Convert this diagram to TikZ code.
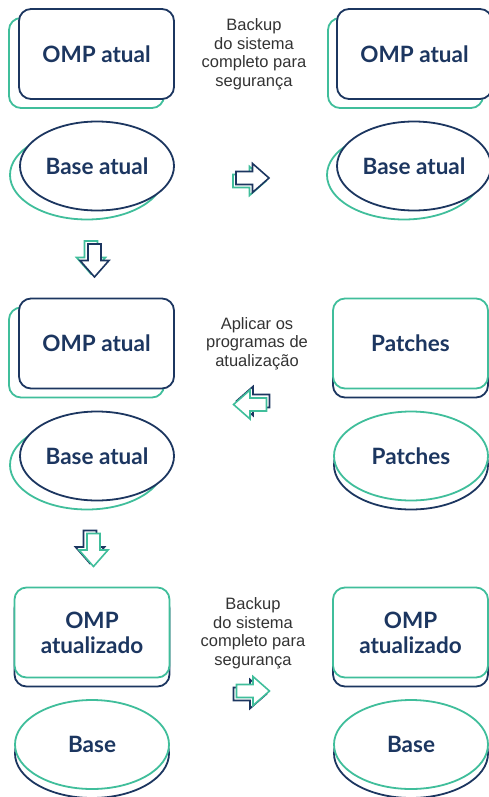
\documentclass[tikz,border=0pt]{standalone}
\usepackage{fontspec}
\setmainfont{Lato}
\newfontfamily\notefont{Liberation Sans}
\usetikzlibrary{shapes.geometric}
\definecolor{cnavy}{RGB}{28,54,96}
\definecolor{cteal}{RGB}{64,190,155}
\definecolor{cgray}{RGB}{51,51,51}
\newcommand\arrowicon[4]{%
  \path[arr, draw=#4, shift={(#1,#2)}, rotate=#3]
    (-16.5,-6.5) -- (0,-6.5) -- (0,-14.5) -- (16.5,0) -- (0,14.5) -- (0,6.5) -- (-16.5,6.5) -- cycle;}
\begin{document}
\begin{tikzpicture}[x=1pt,y=-1pt,
  box/.style={rectangle, rounded corners=12pt, minimum width=155pt, minimum height=90pt, line width=1.8pt, fill=white, inner sep=0pt},
  oval/.style={ellipse, minimum width=154pt, minimum height=89pt, line width=1.8pt, fill=white, inner sep=0pt},
  lbl/.style={font=\bfseries\fontsize{22.5}{25}\selectfont, text=cnavy, align=center},
  note/.style={font=\notefont\fontsize{16.5}{18.5}\selectfont, text=cgray, align=center},
  arr/.style={line width=1.6pt, fill=white, line join=miter}
]
\useasboundingbox (0,0) rectangle (489,797);

% ---------- Row 1 ----------
\node[box, draw=cteal] (omp1ls) at (86.5,63) {};
\node[box, draw=cnavy, lbl] (omp1l) at (96.5,54) {OMP atual};
\node[oval, draw=cteal] (base1ls) at (87,175) {};
\node[oval, draw=cnavy, lbl] (base1l) at (97,166) {Base atual};

\node[box, draw=cteal] (omp1rs) at (405.5,63) {};
\node[box, draw=cnavy, lbl] (omp1r) at (414.5,54) {OMP atual};
\node[oval, draw=cteal] (base1rs) at (404,175) {};
\node[oval, draw=cnavy, lbl] (base1r) at (414,166) {Base atual};

\node[note] (t1) at (254,54.5) {Backup\\do sistema\\completo para\\segurança};

\arrowicon{249.5}{181}{0}{cteal}
\arrowicon{252.5}{178}{0}{cnavy}
\arrowicon{91}{257.5}{-90}{cteal}
\arrowicon{94.5}{260.5}{-90}{cnavy}

% ---------- Row 2 ----------
\node[box, draw=cteal] (omp2ls) at (86.5,352.5) {};
\node[box, draw=cnavy, lbl] (omp2l) at (96.5,343.5) {OMP atual};
\node[oval, draw=cteal] (base2ls) at (87,465) {};
\node[oval, draw=cnavy, lbl] (base2l) at (97,456) {Base atual};

\node[box, draw=cnavy] (pat1s) at (410.5,352.5) {};
\node[box, draw=cteal, lbl] (pat1) at (410.5,343.5) {Patches};
\node[oval, draw=cnavy] (pat2s) at (411,465) {};
\node[oval, draw=cteal, lbl] (pat2) at (411,456) {Patches};

\node[note] (t2) at (257,343.5) {Aplicar os\\programas de\\atualização};

\arrowicon{253}{401}{180}{cnavy}
\arrowicon{250}{404.5}{180}{cteal}
\arrowicon{90}{547}{-90}{cnavy}
\arrowicon{93.5}{550}{-90}{cteal}

% ---------- Row 3 ----------
\node[box, draw=cnavy] (omp3ls) at (92,641.5) {};
\node[box, draw=cteal, lbl] (omp3l) at (92,632.5) {OMP\\atualizado};
\node[oval, draw=cnavy] (base3ls) at (92,753.5) {};
\node[oval, draw=cteal, lbl] (base3l) at (92,744.5) {Base};

\node[box, draw=cnavy] (omp3rs) at (410.5,641.5) {};
\node[box, draw=cteal, lbl] (omp3r) at (410.5,632.5) {OMP\\atualizado};
\node[oval, draw=cnavy] (base3rs) at (411,753.5) {};
\node[oval, draw=cteal, lbl] (base3r) at (411,744.5) {Base};

\node[note] (t3) at (253,633.5) {Backup\\do sistema\\completo para\\segurança};

\arrowicon{250}{694}{0}{cnavy}
\arrowicon{253}{691}{0}{cteal}
\end{tikzpicture}
\end{document}
